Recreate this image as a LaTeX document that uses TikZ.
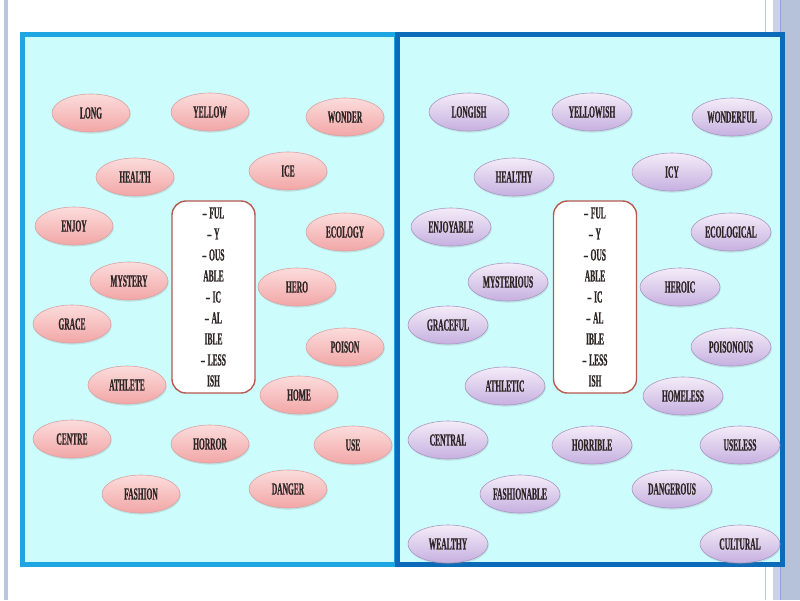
\documentclass[tikz,border=0pt]{standalone}
\usepackage{fontspec}
\setmainfont{Liberation Serif}
\newfontfamily\wordfont[FakeStretch=0.44,FakeBold=0.6]{Liberation Serif Bold}
\usetikzlibrary{shapes.geometric,shadows}
\definecolor{paneFill}{HTML}{CCFCFC}
\definecolor{leftEdge}{HTML}{1EA6E2}
\definecolor{rightEdge}{HTML}{0B6BB8}
\definecolor{pinkTop}{HTML}{FCDCDC}
\definecolor{pinkBot}{HTML}{F2A6A6}
\definecolor{pinkEdge}{HTML}{D9A2A2}
\definecolor{lilacTop}{HTML}{F4ECF8}
\definecolor{lilacBot}{HTML}{C6B0E0}
\definecolor{lilacEdge}{HTML}{A898C4}
\definecolor{wordInk}{HTML}{2E2626}
\definecolor{boxEdge}{HTML}{B65A50}
\definecolor{sideLine}{HTML}{BCC6DC}
\definecolor{sideBand}{HTML}{B6C2DA}
\definecolor{sideLight}{HTML}{CAD3E6}
\newcommand{\sfx}{\textendash\,}

\tikzset{
  wordfont/.style={font={\wordfont\fontsize{17}{21}\selectfont}, text=wordInk},
  baseword/.style={ellipse, minimum width=78pt, minimum height=38pt, inner sep=0pt,
    draw=pinkEdge, line width=0.6pt, top color=pinkTop, bottom color=pinkBot,
    drop shadow={opacity=0.2, shadow xshift=0.8pt, shadow yshift=-1.6pt}, wordfont},
  derivword/.style={baseword, minimum width=80pt, draw=lilacEdge,
    top color=lilacTop, bottom color=lilacBot},
  suffixbox/.style={draw=boxEdge, line width=1.4pt, fill=white, rounded corners=14pt,
    minimum width=83pt, minimum height=192pt, align=center, wordfont},
  panel/.style={line width=5pt, fill=paneFill}
}

\begin{document}
\begin{tikzpicture}[x=1pt,y=-1pt]
\useasboundingbox (0,0) rectangle (800,600);
% --- slide frame ---
\draw[sideLine, line width=4pt] (5.5,0) -- (5.5,600);
\draw[sideLine, line width=1.2pt] (765.5,0) -- (765.5,600);
\fill[sideLight] (773,0) rectangle (780,600);
\fill[sideBand] (780,0) rectangle (800,600);
\draw[sideLine!80!blue, line width=1pt] (780,0) -- (780,600);
% --- panels ---
\draw[panel, draw=leftEdge] (22.5,34.5) rectangle (396,564.5);
\draw[panel, draw=rightEdge] (397.5,34.5) rectangle (782.5,564.5);

% --- base words ---
\node[baseword] (long)    at (91,113)  {LONG};
\node[baseword] (yellow)  at (210,112) {YELLOW};
\node[baseword] (wonder)  at (345,117) {WONDER};
\node[baseword] (health)  at (135,177) {HEALTH};
\node[baseword] (ice)     at (288,171) {ICE};
\node[baseword] (enjoy)   at (74,226)  {ENJOY};
\node[baseword] (ecology) at (345,232) {ECOLOGY};
\node[baseword] (mystery) at (129,281) {MYSTERY};
\node[baseword] (hero)    at (297,287) {HERO};
\node[baseword] (grace)   at (72,324)  {GRACE};
\node[baseword] (poison)  at (345,347) {POISON};
\node[baseword] (athlete) at (127,385) {ATHLETE};
\node[baseword] (home)    at (299,395) {HOME};
\node[baseword] (centre)  at (72,439)  {CENTRE};
\node[baseword] (horror)  at (210,444) {HORROR};
\node[baseword] (use)     at (353,445) {USE};
\node[baseword] (fashion) at (141,494) {FASHION};
\node[baseword] (danger)  at (288,489) {DANGER};
\node[suffixbox] (suffixA) at (213.5,297)
  {\sfx FUL\\\sfx Y\\\sfx OUS\\ABLE\\\sfx IC\\\sfx AL\\IBLE\\\sfx LESS\\ISH};

% --- derived words ---
\node[derivword] (longish)     at (469,112) {LONGISH};
\node[derivword] (yellowish)   at (592,112) {YELLOWISH};
\node[derivword] (wonderful)   at (732,117) {WONDERFUL};
\node[derivword] (healthy)     at (514,177) {HEALTHY};
\node[derivword] (icy)         at (672,172) {ICY};
\node[derivword] (enjoyable)   at (451,227) {ENJOYABLE};
\node[derivword] (ecological)  at (731,232) {ECOLOGICAL};
\node[derivword] (mysterious)  at (508,282) {MYSTERIOUS};
\node[derivword] (heroic)      at (680,287) {HEROIC};
\node[derivword] (graceful)    at (448,325) {GRACEFUL};
\node[derivword] (poisonous)   at (731,347) {POISONOUS};
\node[derivword] (athletic)    at (505,386) {ATHLETIC};
\node[derivword] (homeless)    at (683,396) {HOMELESS};
\node[derivword] (central)     at (448,440) {CENTRAL};
\node[derivword] (horrible)    at (592,445) {HORRIBLE};
\node[derivword] (useless)     at (740,445) {USELESS};
\node[derivword] (fashionable) at (520,494) {FASHIONABLE};
\node[derivword] (dangerous)   at (672,489) {DANGEROUS};
\node[derivword] (wealthy)     at (448,544) {WEALTHY};
\node[derivword] (cultural)    at (740,544) {CULTURAL};
\node[suffixbox] (suffixB) at (595,297)
  {\sfx FUL\\\sfx Y\\\sfx OUS\\ABLE\\\sfx IC\\\sfx AL\\IBLE\\\sfx LESS\\ISH};
\end{tikzpicture}
\end{document}
